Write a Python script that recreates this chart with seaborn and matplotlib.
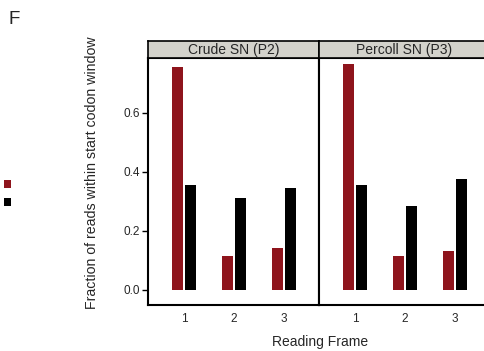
import matplotlib
matplotlib.use("Agg")
import matplotlib.pyplot as plt
from matplotlib.patches import Patch
import seaborn as sns
import pandas as pd

sns.set_style("white")
plt.rcParams['font.family'] = ['Liberation Sans', 'DejaVu Sans']

# ---- data ----
frames = [1, 2, 3]
panels = ["Crude SN (P2)", "Percoll SN (P3)"]
series_names = ["A", "B"]
crude_a = [0.755, 0.116, 0.141]
crude_b = [0.355, 0.310, 0.347]
percoll_a = [0.765, 0.116, 0.133]
percoll_b = [0.356, 0.284, 0.375]
yticks = [0.0, 0.2, 0.4, 0.6]
colors = ["#8E141C", "#000000"]

values = {panels[0]: (crude_a, crude_b), panels[1]: (percoll_a, percoll_b)}
rows = []
for p in panels:
    a, b = values[p]
    for f, va, vb in zip(frames, a, b):
        rows.append({"panel": p, "frame": f, "series": series_names[0], "value": va})
        rows.append({"panel": p, "frame": f, "series": series_names[1], "value": vb})
df = pd.DataFrame(rows)

W, H = 484, 351
fig = plt.figure(figsize=(W / 100, H / 100), dpi=100)

def fx(px):
    return px / W

def fy(px):
    return 1 - px / H

panel_lefts = [148, 319]
panel_w = 171
top, bottom = 58, 305
strip_top = 41

for i, p in enumerate(panels):
    left = panel_lefts[i]
    ax = fig.add_axes([fx(left), fy(bottom), panel_w / W, (bottom - top) / H])
    sub = df[df.panel == p]
    sns.barplot(data=sub, x="frame", y="value", hue="series", hue_order=series_names,
                palette=colors, width=0.52, gap=0.23, ax=ax, legend=False,
                errorbar=None, saturation=1, edgecolor="none")
    ax.set_xlim(-0.72, 2.70)
    ax.set_ylim(-0.051, 0.786)
    ax.set_xlabel("")
    ax.set_ylabel("")
    ax.set_yticks(yticks)
    ax.set_xticks(range(len(frames)))
    ax.set_xticklabels([str(f) for f in frames], fontsize=8.5)
    ax.tick_params(axis="x", length=0, pad=6)
    if i == 0:
        ax.set_yticklabels([f"{t:.1f}" for t in yticks], fontsize=8.5)
        ax.tick_params(axis="y", left=True, length=4, width=1, pad=2, color="black")
    else:
        ax.tick_params(axis="y", left=False, labelleft=False)
    for s in ax.spines.values():
        s.set_visible(True)
        s.set_color("black")
        s.set_linewidth(1.5)
    # strip
    sax = fig.add_axes([fx(left), fy(top), panel_w / W, (top - strip_top) / H])
    sax.set_facecolor("#D3D2CB")
    sax.set_xticks([])
    sax.set_yticks([])
    for s in sax.spines.values():
        s.set_color("black")
        s.set_linewidth(1.2)
    sax.text(0.5, 0.45, p, ha="center", va="center", fontsize=10, transform=sax.transAxes)

fig.text(fx(320), fy(342), "Reading Frame", ha="center", va="center", fontsize=10)
fig.text(fx(92), fy(173), "Fraction of reads within start codon window", rotation=90,
         ha="center", va="center", fontsize=10.2)
fig.text(fx(9), fy(19), "F", ha="left", va="center", fontsize=13.5)

handles = [Patch(facecolor=c, edgecolor="none") for c in colors]
fig.legend(handles, ["", ""], loc="center left", bbox_to_anchor=(fx(0), fy(194)),
           frameon=False, handlelength=0.5, handleheight=0.5, handletextpad=0,
           labelspacing=0.25, borderpad=0.3, borderaxespad=0)

fig.savefig("out.png", dpi=100)
